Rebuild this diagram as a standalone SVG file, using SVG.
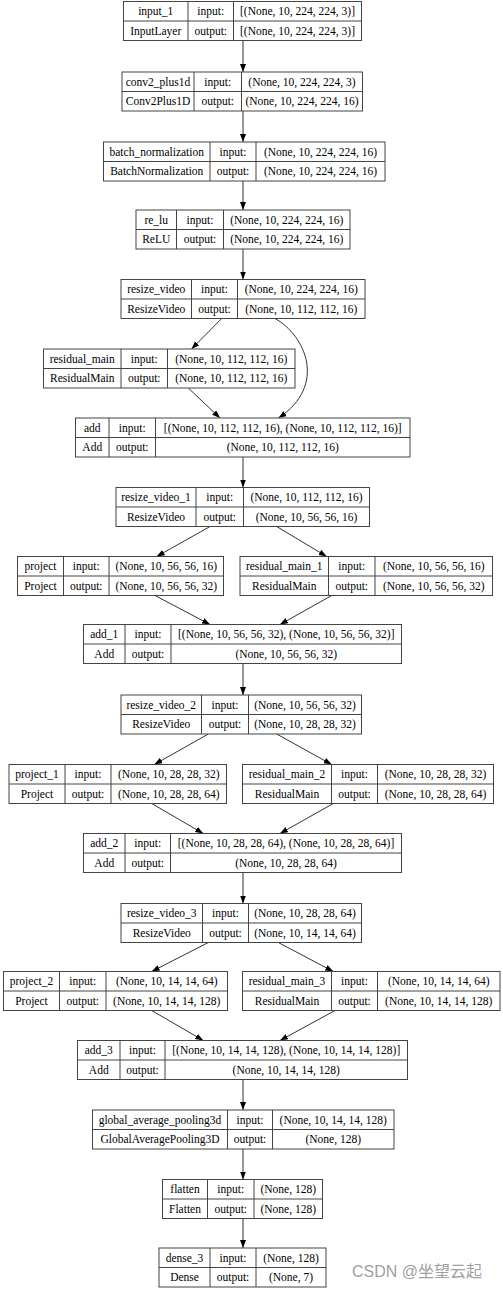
<svg xmlns="http://www.w3.org/2000/svg" width="503" height="1291" viewBox="0 0 503 1291">
<style>
.n rect{fill:#fff;stroke:#444;stroke-width:1}
.n path{fill:none;stroke:#444;stroke-width:1}
.n text{font-family:"Liberation Serif","Times New Roman",serif;font-size:11.5px;fill:#000;text-anchor:middle}
.e path{fill:none;stroke:#333;stroke-width:1;marker-end:url(#ah)}
.wm{font-family:"Liberation Sans","Noto Sans CJK SC",sans-serif;font-size:16px;fill:#a0a0a0}
</style>
<defs>
<marker id="ah" markerUnits="userSpaceOnUse" markerWidth="8" markerHeight="6" refX="8" refY="3" orient="auto"><path d="M0,0L8,3L0,6z" fill="#000"/></marker>
</defs>
<rect width="503" height="1291" fill="#fff"/>
<g class="e" id="connectors">
<path d="M243,40.5V72"/>
<path d="M243,111V142"/>
<path d="M243,181V210"/>
<path d="M243,249V279.5"/>
<path d="M221.7,318.5L191.5,349"/>
<path d="M188.3,388L220,418"/>
<path d="M275,318.5C305,335 328,385 278.5,418"/>
<path d="M243,457V487.5"/>
<path d="M210,526.5L156.7,556.5"/>
<path d="M276.7,526.5L326.7,556.5"/>
<path d="M155,595.5L210,624.5"/>
<path d="M331.7,595.5L280,624.5"/>
<path d="M243,663.5V695"/>
<path d="M208.3,734L154.3,764.5"/>
<path d="M276.7,734L331.7,764.5"/>
<path d="M151.7,803.5L203.3,833.5"/>
<path d="M333.3,803.5L280,833.5"/>
<path d="M243,872.5V903.5"/>
<path d="M208.3,942.5L151.7,971.5"/>
<path d="M278.3,942.5L333.3,971.5"/>
<path d="M151.7,1010.5L203.3,1040.5"/>
<path d="M335,1010.5L280,1040.5"/>
<path d="M243,1079.5V1110"/>
<path d="M243,1149V1179.5"/>
<path d="M243,1218.5V1248"/>
</g>
<g class="n" id="input_1" transform="translate(0,1.5)"><rect x="123.5" y="0" width="238" height="39"/><path d="M123.5,19.5H361.5M188,0V39M233.5,0V39"/>
<text x="155.75" y="13.5">input_1</text><text x="155.75" y="33">InputLayer</text><text x="210.75" y="13.5">input:</text><text x="210.75" y="33">output:</text><text x="297.5" y="13.5">[(None, 10, 224, 224, 3)]</text><text x="297.5" y="33">[(None, 10, 224, 224, 3)]</text></g>
<g class="n" id="conv2_plus1d" transform="translate(0,72)"><rect x="122" y="0" width="240.5" height="39"/><path d="M122,19.5H362.5M194,0V39M241.5,0V39"/>
<text x="158" y="13.5">conv2_plus1d</text><text x="158" y="33">Conv2Plus1D</text><text x="217.75" y="13.5">input:</text><text x="217.75" y="33">output:</text><text x="302" y="13.5">(None, 10, 224, 224, 3)</text><text x="302" y="33">(None, 10, 224, 224, 16)</text></g>
<g class="n" id="batch_normalization" transform="translate(0,142)"><rect x="103.5" y="0" width="281.5" height="39"/><path d="M103.5,19.5H385M210,0V39M256,0V39"/>
<text x="156.75" y="13.5">batch_normalization</text><text x="156.75" y="33">BatchNormalization</text><text x="233" y="13.5">input:</text><text x="233" y="33">output:</text><text x="320.5" y="13.5">(None, 10, 224, 224, 16)</text><text x="320.5" y="33">(None, 10, 224, 224, 16)</text></g>
<g class="n" id="re_lu" transform="translate(0,210)"><rect x="136" y="0" width="214" height="39"/><path d="M136,19.5H350M176.5,0V39M223.5,0V39"/>
<text x="156.25" y="13.5">re_lu</text><text x="156.25" y="33">ReLU</text><text x="200" y="13.5">input:</text><text x="200" y="33">output:</text><text x="286.75" y="13.5">(None, 10, 224, 224, 16)</text><text x="286.75" y="33">(None, 10, 224, 224, 16)</text></g>
<g class="n" id="resize_video" transform="translate(0,279.5)"><rect x="121" y="0" width="244" height="39"/><path d="M121,19.5H365M191.5,0V39M237.5,0V39"/>
<text x="156.25" y="13.5">resize_video</text><text x="156.25" y="33">ResizeVideo</text><text x="214.5" y="13.5">input:</text><text x="214.5" y="33">output:</text><text x="301.25" y="13.5">(None, 10, 224, 224, 16)</text><text x="301.25" y="33">(None, 10, 112, 112, 16)</text></g>
<g class="n" id="residual_main" transform="translate(0,349)"><rect x="43.5" y="0" width="251.5" height="39"/><path d="M43.5,19.5H295M121,0V39M167.5,0V39"/>
<text x="82.25" y="13.5">residual_main</text><text x="82.25" y="33">ResidualMain</text><text x="144.25" y="13.5">input:</text><text x="144.25" y="33">output:</text><text x="231.25" y="13.5">(None, 10, 112, 112, 16)</text><text x="231.25" y="33">(None, 10, 112, 112, 16)</text></g>
<g class="n" id="add" transform="translate(0,418)"><rect x="75.5" y="0" width="334.5" height="39"/><path d="M75.5,19.5H410M109,0V39M155.5,0V39"/>
<text x="92.25" y="13.5">add</text><text x="92.25" y="33">Add</text><text x="132.25" y="13.5">input:</text><text x="132.25" y="33">output:</text><text x="282.75" y="13.5">[(None, 10, 112, 112, 16), (None, 10, 112, 112, 16)]</text><text x="282.75" y="33">(None, 10, 112, 112, 16)</text></g>
<g class="n" id="resize_video_1" transform="translate(0,487.5)"><rect x="116" y="0" width="253.5" height="39"/><path d="M116,19.5H369.5M196,0V39M243.5,0V39"/>
<text x="156" y="13.5">resize_video_1</text><text x="156" y="33">ResizeVideo</text><text x="219.75" y="13.5">input:</text><text x="219.75" y="33">output:</text><text x="306.5" y="13.5">(None, 10, 112, 112, 16)</text><text x="306.5" y="33">(None, 10, 56, 56, 16)</text></g>
<g class="n" id="project" transform="translate(0,556.5)"><rect x="17.5" y="0" width="206" height="39"/><path d="M17.5,19.5H223.5M63.5,0V39M109,0V39"/>
<text x="40.5" y="13.5">project</text><text x="40.5" y="33">Project</text><text x="86.25" y="13.5">input:</text><text x="86.25" y="33">output:</text><text x="166.25" y="13.5">(None, 10, 56, 56, 16)</text><text x="166.25" y="33">(None, 10, 56, 56, 32)</text></g>
<g class="n" id="residual_main_1" transform="translate(0,556.5)"><rect x="240" y="0" width="252.5" height="39"/><path d="M240,19.5H492.5M328.5,0V39M375,0V39"/>
<text x="284.25" y="13.5">residual_main_1</text><text x="284.25" y="33">ResidualMain</text><text x="351.75" y="13.5">input:</text><text x="351.75" y="33">output:</text><text x="433.75" y="13.5">(None, 10, 56, 56, 16)</text><text x="433.75" y="33">(None, 10, 56, 56, 32)</text></g>
<g class="n" id="add_1" transform="translate(0,624.5)"><rect x="83.5" y="0" width="318" height="39"/><path d="M83.5,19.5H401.5M125,0V39M171,0V39"/>
<text x="104.25" y="13.5">add_1</text><text x="104.25" y="33">Add</text><text x="148" y="13.5">input:</text><text x="148" y="33">output:</text><text x="286.25" y="13.5">[(None, 10, 56, 56, 32), (None, 10, 56, 56, 32)]</text><text x="286.25" y="33">(None, 10, 56, 56, 32)</text></g>
<g class="n" id="resize_video_2" transform="translate(0,695)"><rect x="121" y="0" width="240.5" height="39"/><path d="M121,19.5H361.5M201.5,0V39M248.5,0V39"/>
<text x="161.25" y="13.5">resize_video_2</text><text x="161.25" y="33">ResizeVideo</text><text x="225" y="13.5">input:</text><text x="225" y="33">output:</text><text x="305" y="13.5">(None, 10, 56, 56, 32)</text><text x="305" y="33">(None, 10, 28, 28, 32)</text></g>
<g class="n" id="project_1" transform="translate(0,764.5)"><rect x="9" y="0" width="217.5" height="39"/><path d="M9,19.5H226.5M65,0V39M111,0V39"/>
<text x="37" y="13.5">project_1</text><text x="37" y="33">Project</text><text x="88" y="13.5">input:</text><text x="88" y="33">output:</text><text x="168.75" y="13.5">(None, 10, 28, 28, 32)</text><text x="168.75" y="33">(None, 10, 28, 28, 64)</text></g>
<g class="n" id="residual_main_2" transform="translate(0,764.5)"><rect x="242.5" y="0" width="251" height="39"/><path d="M242.5,19.5H493.5M331.5,0V39M377.5,0V39"/>
<text x="287" y="13.5">residual_main_2</text><text x="287" y="33">ResidualMain</text><text x="354.5" y="13.5">input:</text><text x="354.5" y="33">output:</text><text x="435.5" y="13.5">(None, 10, 28, 28, 32)</text><text x="435.5" y="33">(None, 10, 28, 28, 64)</text></g>
<g class="n" id="add_2" transform="translate(0,833.5)"><rect x="83.5" y="0" width="318" height="39"/><path d="M83.5,19.5H401.5M125,0V39M170.5,0V39"/>
<text x="104.25" y="13.5">add_2</text><text x="104.25" y="33">Add</text><text x="147.75" y="13.5">input:</text><text x="147.75" y="33">output:</text><text x="286" y="13.5">[(None, 10, 28, 28, 64), (None, 10, 28, 28, 64)]</text><text x="286" y="33">(None, 10, 28, 28, 64)</text></g>
<g class="n" id="resize_video_3" transform="translate(0,903.5)"><rect x="121" y="0" width="240.5" height="39"/><path d="M121,19.5H361.5M202.5,0V39M248.5,0V39"/>
<text x="161.75" y="13.5">resize_video_3</text><text x="161.75" y="33">ResizeVideo</text><text x="225.5" y="13.5">input:</text><text x="225.5" y="33">output:</text><text x="305" y="13.5">(None, 10, 28, 28, 64)</text><text x="305" y="33">(None, 10, 14, 14, 64)</text></g>
<g class="n" id="project_2" transform="translate(0,971.5)"><rect x="3.5" y="0" width="224" height="39"/><path d="M3.5,19.5H227.5M59.5,0V39M106,0V39"/>
<text x="31.5" y="13.5">project_2</text><text x="31.5" y="33">Project</text><text x="82.75" y="13.5">input:</text><text x="82.75" y="33">output:</text><text x="166.75" y="13.5">(None, 10, 14, 14, 64)</text><text x="166.75" y="33">(None, 10, 14, 14, 128)</text></g>
<g class="n" id="residual_main_3" transform="translate(0,971.5)"><rect x="242.5" y="0" width="257.5" height="39"/><path d="M242.5,19.5H500M331.5,0V39M377.5,0V39"/>
<text x="287" y="13.5">residual_main_3</text><text x="287" y="33">ResidualMain</text><text x="354.5" y="13.5">input:</text><text x="354.5" y="33">output:</text><text x="438.75" y="13.5">(None, 10, 14, 14, 64)</text><text x="438.75" y="33">(None, 10, 14, 14, 128)</text></g>
<g class="n" id="add_3" transform="translate(0,1040.5)"><rect x="77.5" y="0" width="330" height="39"/><path d="M77.5,19.5H407.5M120,0V39M165,0V39"/>
<text x="98.75" y="13.5">add_3</text><text x="98.75" y="33">Add</text><text x="142.5" y="13.5">input:</text><text x="142.5" y="33">output:</text><text x="286.25" y="13.5">[(None, 10, 14, 14, 128), (None, 10, 14, 14, 128)]</text><text x="286.25" y="33">(None, 10, 14, 14, 128)</text></g>
<g class="n" id="global_average_pooling3d" transform="translate(0,1110)"><rect x="92.5" y="0" width="301.5" height="39"/><path d="M92.5,19.5H394M227.5,0V39M272.5,0V39"/>
<text x="160" y="13.5">global_average_pooling3d</text><text x="160" y="33">GlobalAveragePooling3D</text><text x="250" y="13.5">input:</text><text x="250" y="33">output:</text><text x="333.25" y="13.5">(None, 10, 14, 14, 128)</text><text x="333.25" y="33">(None, 128)</text></g>
<g class="n" id="flatten" transform="translate(0,1179.5)"><rect x="162.5" y="0" width="160" height="39"/><path d="M162.5,19.5H322.5M207.5,0V39M254,0V39"/>
<text x="185" y="13.5">flatten</text><text x="185" y="33">Flatten</text><text x="230.75" y="13.5">input:</text><text x="230.75" y="33">output:</text><text x="288.25" y="13.5">(None, 128)</text><text x="288.25" y="33">(None, 128)</text></g>
<g class="n" id="dense_3" transform="translate(0,1248)"><rect x="159" y="0" width="167" height="39"/><path d="M159,19.5H326M210,0V39M256,0V39"/>
<text x="184.5" y="13.5">dense_3</text><text x="184.5" y="33">Dense</text><text x="233" y="13.5">input:</text><text x="233" y="33">output:</text><text x="291" y="13.5">(None, 128)</text><text x="291" y="33">(None, 7)</text></g>
<text class="wm" x="352" y="1277">CSDN @坐望云起</text>
</svg>
